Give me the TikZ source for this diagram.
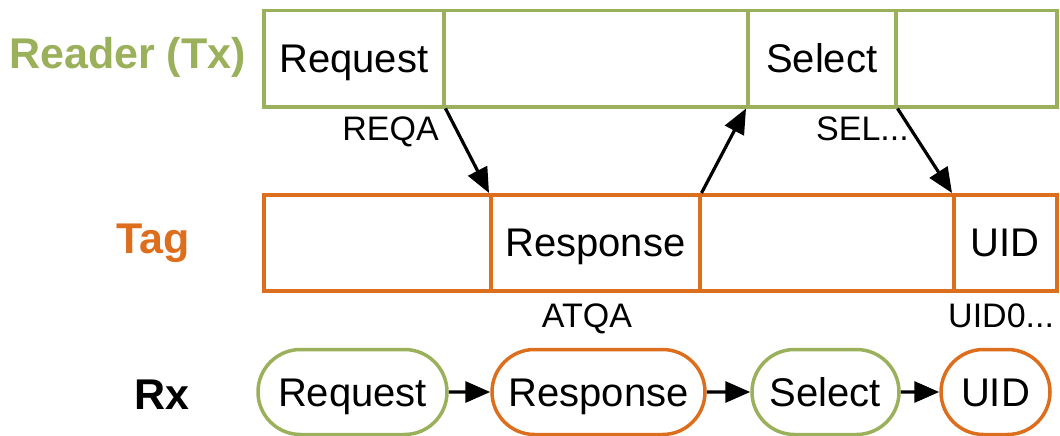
\documentclass[tikz,border=0pt]{standalone}
\usepackage{fontspec}
\setmainfont{Liberation Sans}
\usetikzlibrary{shapes.misc,arrows.meta}
\definecolor{rgreen}{HTML}{9BB05A}
\definecolor{torange}{HTML}{DC6E1E}
\tikzset{
  cell/.style={rectangle, draw=#1, line width=3.5pt, anchor=north west, minimum height=96pt, inner sep=0pt,
    font=\fontsize{40}{42}\selectfont, text height=28pt, text depth=0pt},
  pill/.style={rounded rectangle, draw=#1, line width=3.5pt, minimum height=85pt, inner sep=0pt,
    font=\fontsize{40}{42}\selectfont, text height=28pt, text depth=0pt},
  lbl/.style={font=\fontsize{34}{36}\selectfont, inner sep=0pt, text height=24pt, text depth=0pt},
  rowlbl/.style={font=\bfseries\fontsize{43}{45}\selectfont, inner sep=0pt, anchor=base east},
  arr/.style={line width=3.2pt, -{Triangle[length=25pt,width=21pt]}},
}
\begin{document}
\begin{tikzpicture}[x=1pt,y=-1pt]
\useasboundingbox (0,0) rectangle (1060,436);
% row labels
\node[rowlbl, text=rgreen] (lr) at (246,68) {Reader (Tx)};
\node[rowlbl, text=torange] (lt) at (190,253) {Tag};
\node[rowlbl, text=black] (lx) at (190,409) {Rx};
% reader row
\node[cell=rgreen, minimum width=180pt] (r1) at (262,9) {Request};
\node[cell=rgreen, minimum width=304pt] (r2) at (442,9) {};
\node[cell=rgreen, minimum width=148pt] (r3) at (746,9) {Select};
\node[cell=rgreen, minimum width=161pt] (r4) at (894,9) {};
% tag row
\node[cell=torange, minimum width=227pt] (t1) at (262,193) {};
\node[cell=torange, minimum width=209pt] (t2) at (489,193) {Response};
\node[cell=torange, minimum width=254pt] (t3) at (698,193) {};
\node[cell=torange, minimum width=103pt] (t4) at (952,193) {UID};
% arrows between rows
\draw[arr] (r1.south east) -- (t2.north west);
\draw[arr] (t2.north east) -- (r3.south west);
\draw[arr] (r3.south east) -- (t4.north west);
% labels
\node[lbl, anchor=east] (l1) at (439,128) {REQA};
\node[lbl, anchor=west] (l2) at (816,128) {SEL...};
\node[lbl] (l3) at (587,315) {ATQA};
\node[lbl, anchor=west] (l4) at (948,315) {UID0...};
% Rx row
\node[pill=rgreen, minimum width=189pt] (p1) at (352.5,392) {Request};
\node[pill=torange, minimum width=213pt] (p2) at (598.5,392) {Response};
\node[pill=rgreen, minimum width=147pt] (p3) at (825.5,392) {Select};
\node[pill=torange, minimum width=109pt] (p4) at (995.5,392) {UID};
\draw[arr] (p1) -- (p2);
\draw[arr] (p2) -- (p3);
\draw[arr] (p3) -- (p4);
\end{tikzpicture}
\end{document}
